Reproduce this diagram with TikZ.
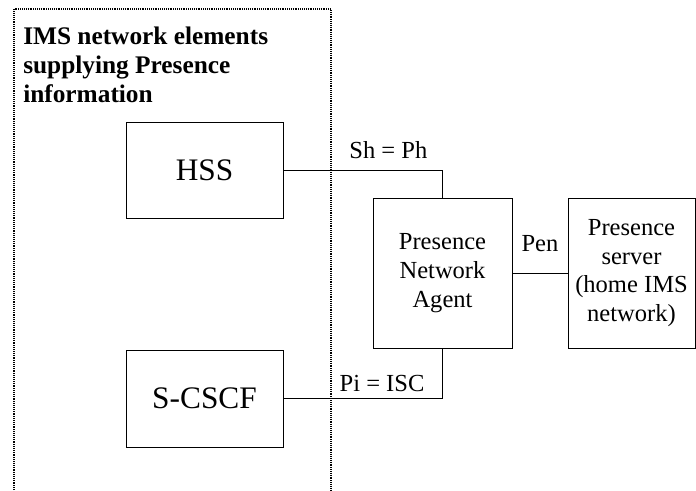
\documentclass[tikz,border=0pt]{standalone}
\usepackage{fontspec}
\setmainfont{Liberation Serif}
\usepackage{tikz}
\usetikzlibrary{positioning}

\begin{document}
\begin{tikzpicture}[x=0.75pt, y=-0.75pt,
    elem/.style={draw, line width=0.6pt, inner sep=0pt, align=center},
    link/.style={line width=0.6pt},
    lbl/.style={inner sep=0pt, font=\fontsize{18.4}{21.5}\selectfont}]
        \useasboundingbox (0,0) rectangle (696,490);
        % Dotted area of the IMS elements
        \draw[line width=1pt, dash pattern=on 0.7pt off 0.7pt] (14,490) -- (14,9) -- (331,9) -- (331,490);
        \node[anchor=north west, inner sep=0pt, align=left, font=\fontsize{19}{21.75}\selectfont\bfseries] (title) at (23,27)
            {IMS network elements\\supplying Presence\\information};
        % Elements
        \node[elem, minimum width=117.75pt, minimum height=72pt, font=\fontsize{23.5}{26}\selectfont] (hss) at (204.5,170) {HSS};
        \node[elem, minimum width=117.75pt, minimum height=72.75pt, font=\fontsize{23.5}{26}\selectfont] (scscf) at (204.5,398.5) {S-CSCF};
        \node[elem, minimum width=104.25pt, minimum height=112.5pt, font=\fontsize{18.4}{21.5}\selectfont] (pna) at (442.5,273) {Presence\\Network\\Agent};
        \node[elem, minimum width=95.25pt, minimum height=112.5pt, font=\fontsize{18.4}{21.5}\selectfont] (ps) at (631.5,273) {Presence\\server\\(home IMS\\network)};
        % Reference points
        \draw[link] (hss.east) -| node[lbl, pos=0.33, above=8pt] (sh) {Sh = Ph} (pna.north);
        \draw[link] (scscf.east) -| node[lbl, pos=0.31, above=5pt] (pi) {Pi = ISC} (pna.south);
        \draw[link] (pna.east) -- node[lbl, above=16pt] (pen) {Pen} (ps.west);
    \end{tikzpicture}
\end{document}
